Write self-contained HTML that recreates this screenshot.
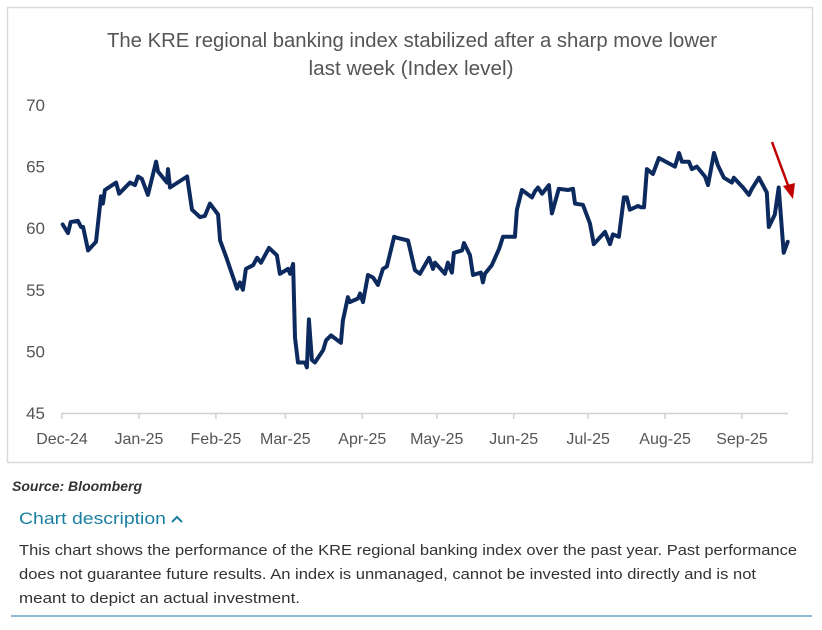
<!DOCTYPE html>
<html><head><meta charset="utf-8"><style>
html,body{margin:0;padding:0;background:#fff;width:822px;height:630px;overflow:hidden}
svg{display:block;font-family:"Liberation Sans",sans-serif}
</style></head><body>
<svg id="chart" width="822" height="630" viewBox="0 0 822 630">
<rect x="7.5" y="7.5" width="805" height="455" fill="#fff" stroke="#d9d9d9" stroke-width="1.5"/>
<text x="412" y="47" text-anchor="middle" font-size="20" fill="#555" textLength="610" lengthAdjust="spacingAndGlyphs">The KRE regional banking index stabilized after a sharp move lower</text>
<text x="411" y="75" text-anchor="middle" font-size="20" fill="#555" textLength="205" lengthAdjust="spacingAndGlyphs">last week (Index level)</text>
<g id="yaxis"></g>
<g id="xaxis"></g>
<g id="plot"></g>
<g>
<line x1="772" y1="142" x2="789" y2="188" stroke="#c00000" stroke-width="2.5"/>
<polygon points="793,199 783,186 795,183" fill="#c00000"/>
</g>
<text x="12" y="491" font-size="14" font-style="italic" font-weight="bold" fill="#333" textLength="130" lengthAdjust="spacingAndGlyphs">Source: Bloomberg</text>
<g>
<text x="19" y="524" font-size="17" fill="#1a7fa0" textLength="147" lengthAdjust="spacingAndGlyphs">Chart description</text>
<polyline points="172,522 177,517 182,522" fill="none" stroke="#1a7fa0" stroke-width="2"/>
</g>
<g font-size="15" fill="#333">
<text x="19" y="555" textLength="778" lengthAdjust="spacingAndGlyphs">This chart shows the performance of the KRE regional banking index over the past year. Past performance</text>
<text x="19" y="579" textLength="737" lengthAdjust="spacingAndGlyphs">does not guarantee future results. An index is unmanaged, cannot be invested into directly and is not</text>
<text x="19" y="603" textLength="281" lengthAdjust="spacingAndGlyphs">meant to depict an actual investment.</text>
</g>
<line x1="11" y1="616" x2="812" y2="616" stroke="#8fbcd4" stroke-width="2"/>
</svg>
<script>
// days since 2024-12-01
const days = [0.3,2.4,3.5,6.4,7.7,8.5,10.5,13.7,15.7,16.5,17.3,21.8,23.0,27.4,29.4,30.6,32.2,34.6,37.9,38.7,42.3,42.7,43.5,50.4,52.4,55.6,57.6,59.6,62.9,63.7,66.1,70.5,71.7,72.9,74.1,77.0,78.6,80.2,83.4,86.6,87.8,91.1,91.9,93.1,93.9,95.1,97.9,98.7,99.5,100.7,101.9,105.2,106.4,108.4,112.4,113.2,115.2,116.0,119.3,120.1,121.3,123.3,125.3,127.3,129.3,130.9,133.8,135.4,139.4,142.2,144.2,147.9,149.5,150.3,154.3,155.5,157.1,157.9,161.2,162.0,164.4,165.6,168.8,169.6,170.4,173.2,176.1,177.7,182.5,183.3,185.3,189.4,190.6,191.8,193.4,196.2,197.4,200.2,203.9,205.9,206.7,209.9,212.7,214.3,218.8,220.8,222.0,224.4,226.4,227.6,228.8,232.1,233.3,234.5,235.7,238.1,240.5,247.0,248.6,249.8,252.6,253.8,255.8,259.1,260.3,262.7,264.3,266.7,269.9,270.7,274.4,276.8,278.0,280.8,284.0,284.8,287.2,288.8,290.8,292.4];
const values = [60.3,59.6,60.5,60.6,60.1,60.1,58.2,58.9,62.6,62.0,63.1,63.7,62.8,63.7,63.5,64.2,64.0,62.7,65.4,64.6,63.7,64.8,63.3,64.2,61.5,60.9,61.0,62.0,61.1,59.0,57.7,55.1,55.6,55.0,56.7,57.0,57.6,57.2,58.4,57.8,56.3,56.7,56.3,57.1,51.1,49.1,49.1,48.7,52.6,49.3,49.1,50.1,50.9,51.3,50.7,52.5,54.4,54.0,54.3,54.7,54.0,56.2,56.0,55.4,56.7,56.9,59.3,59.2,59.0,56.6,56.3,57.6,56.7,57.2,56.3,57.2,56.4,58.0,58.2,58.8,57.8,56.2,56.4,55.6,56.3,57.0,58.3,59.3,59.3,61.5,63.1,62.5,63.0,63.3,62.8,63.5,61.2,63.2,63.1,63.2,62.0,61.9,60.4,58.7,59.7,58.7,59.5,59.3,62.5,62.5,61.5,61.8,61.7,61.7,64.8,64.4,65.7,65.0,66.1,65.4,65.4,64.8,65.0,64.2,63.5,66.1,65.1,64.1,63.7,64.1,63.3,62.7,63.2,64.1,62.9,60.1,61.1,63.3,58.0,58.9];
const yTicks = [45,50,55,60,65,70];
const xTickLabels = ["Dec-24","Jan-25","Feb-25","Mar-25","Apr-25","May-25","Jun-25","Jul-25","Aug-25","Sep-25"];
const xTickDays = [0,31,62,90,121,151,182,212,243,274];
const xEndDay = 292.5;

const NS="http://www.w3.org/2000/svg";
const X0=62, PX_PER_DAY=(742-62)/274;
const x=d=>X0+d*PX_PER_DAY;
const y=v=>413-(v-45)*(413-105)/25;
function mk(tag,attrs,parent){const e=document.createElementNS(NS,tag);for(const k in attrs)e.setAttribute(k,attrs[k]);parent.appendChild(e);return e;}
const ya=document.getElementById('yaxis'),xa=document.getElementById('xaxis'),pl=document.getElementById('plot');
yTicks.forEach(t=>{
  const e=mk('text',{x:45,y:y(t)+6,'text-anchor':'end','font-size':17,fill:'#555'},ya);
  e.textContent=t;
  
  
});
const axl=mk('line',{x1:x(0),y1:413.5,x2:x(xEndDay),y2:413.5,stroke:'#d0d0d0','stroke-width':1.5},xa);


xTickLabels.forEach((lab,i)=>{
  const tx=x(xTickDays[i]);
  const tk=mk('line',{x1:tx,y1:413,x2:tx,y2:419,stroke:'#d0d0d0','stroke-width':1.5},xa);
  
  
  const e=mk('text',{x:tx,y:444,'text-anchor':'middle','font-size':16,fill:'#555'},xa);
  e.textContent=lab;
  
  
});
const pts=days.map((d,i)=>x(d).toFixed(1)+','+y(values[i]).toFixed(1)).join(' ');
const ln=mk('polyline',{points:pts,fill:'none',stroke:'#0c2a5e','stroke-width':4,'stroke-linejoin':'round','stroke-linecap':'round'},pl);


</script>
</body></html>
